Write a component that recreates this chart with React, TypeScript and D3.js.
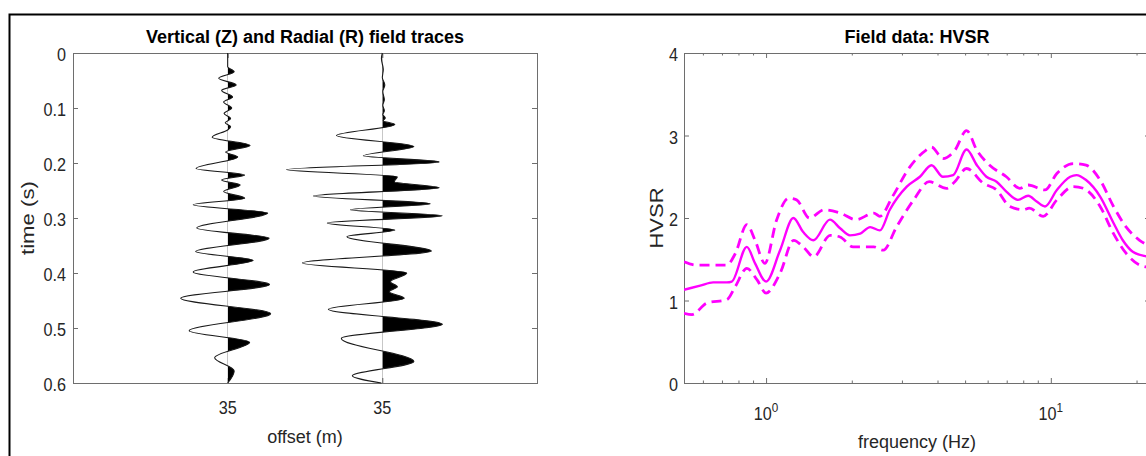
import React from "react";
import * as d3 from "d3";

// ---- Left panel: wiggle traces (time in s, amplitude in offset units) ----
const traceOffsets = [1, 2];
const offsetTickLabels = ["35", "35"];
const timeTicks = [0, 0.1, 0.2, 0.3, 0.4, 0.5, 0.6];

const zTime = [0, 0.025, 0.034, 0.046, 0.058, 0.068, 0.08, 0.089, 0.1, 0.11, 0.119, 0.127, 0.134, 0.14, 0.153, 0.168, 0.18, 0.189, 0.21, 0.222, 0.231, 0.24, 0.252, 0.264, 0.276, 0.291, 0.318, 0.337, 0.361, 0.377, 0.398, 0.421, 0.446, 0.474, 0.505, 0.526, 0.554, 0.578, 0.6];
const zAmp = [0, 0, 0.042, -0.058, 0.055, -0.039, 0.032, -0.026, 0.026, -0.023, 0.019, -0.016, 0.019, 0, -0.1, 0.145, -0.013, 0.065, -0.204, 0.11, -0.039, 0.081, -0.026, 0.11, -0.223, 0.259, -0.2, 0.268, -0.207, 0.165, -0.223, 0.271, -0.304, 0.278, -0.249, 0.142, -0.084, 0.042, 0];

const rTime = [0, 0.01, 0.03, 0.045, 0.058, 0.07, 0.085, 0.095, 0.105, 0.112, 0.118, 0.123, 0.13, 0.15, 0.17, 0.187, 0.198, 0.212, 0.225, 0.234, 0.245, 0.26, 0.274, 0.285, 0.296, 0.309, 0.322, 0.334, 0.36, 0.382, 0.4, 0.416, 0.425, 0.434, 0.446, 0.466, 0.493, 0.519, 0.561, 0.587, 0.6];
const rAmp = [0, -0.006, 0.006, 0, 0.016, 0.003, 0.013, 0.003, 0.013, 0.003, 0.019, 0.006, 0.081, -0.297, 0.204, -0.123, 0.368, -0.621, 0.097, 0.078, 0.368, -0.446, 0.31, -0.207, 0.388, -0.356, 0.081, -0.229, 0.317, -0.517, 0.158, 0.052, 0.097, 0.045, 0.142, -0.349, 0.388, -0.265, 0.204, -0.194, -0.006];

// ---- Right panel: HVSR curve with +/- one standard deviation ----
const hvsrTicks = [0, 1, 2, 3, 4];

const meanFreq = [0.515, 0.587, 0.652, 0.728, 0.758, 0.856, 0.915, 1.0, 1.12, 1.247, 1.35, 1.466, 1.676, 1.82, 1.97, 2.14, 2.32, 2.51, 2.72, 3.12, 3.47, 3.81, 4.18, 4.54, 5.06, 5.5, 5.94, 6.45, 6.98, 7.67, 8.33, 8.92, 9.54, 10.5, 11.7, 12.3, 13.3, 14.9, 16.6, 17.9, 19.4, 21.3, 22.3];
const meanHvsr = [1.13, 1.18, 1.22, 1.22, 1.23, 1.65, 1.45, 1.23, 1.61, 2.0, 1.83, 1.73, 1.98, 1.875, 1.79, 1.81, 1.89, 1.85, 2.1, 2.38, 2.5, 2.64, 2.5, 2.52, 2.83, 2.64, 2.5, 2.44, 2.32, 2.22, 2.27, 2.2, 2.14, 2.34, 2.5, 2.52, 2.46, 2.26, 1.94, 1.73, 1.59, 1.54, 1.53];

const upperFreq = [0.515, 0.57, 0.728, 0.78, 0.856, 0.915, 0.99, 1.09, 1.2, 1.28, 1.42, 1.6, 1.82, 2.07, 2.39, 2.51, 2.78, 3.2, 3.64, 3.81, 4.18, 4.6, 5.06, 5.5, 6.1, 6.98, 7.78, 8.33, 9.54, 10.5, 12.0, 13.3, 14.9, 16.6, 18.4, 20.5, 22.3];
const upperHvsr = [1.47, 1.43, 1.43, 1.57, 1.92, 1.73, 1.45, 1.98, 2.24, 2.22, 2.0, 2.1, 2.06, 1.98, 2.06, 2.02, 2.26, 2.62, 2.82, 2.86, 2.72, 2.82, 3.06, 2.82, 2.64, 2.5, 2.36, 2.4, 2.34, 2.54, 2.66, 2.64, 2.46, 2.14, 1.89, 1.73, 1.66];

const lowerFreq = [0.515, 0.55, 0.62, 0.728, 0.78, 0.856, 0.93, 1.0, 1.12, 1.25, 1.35, 1.47, 1.68, 1.82, 2.02, 2.39, 2.58, 2.87, 3.3, 3.74, 4.3, 4.6, 5.06, 5.8, 6.45, 7.18, 8.0, 8.4, 9.4, 10.5, 12.0, 13.0, 14.9, 16.6, 18.4, 20.5, 22.3];
const lowerHvsr = [0.845, 0.83, 0.97, 1.01, 1.17, 1.39, 1.25, 1.09, 1.33, 1.73, 1.65, 1.53, 1.79, 1.77, 1.65, 1.65, 1.61, 1.89, 2.22, 2.44, 2.36, 2.44, 2.6, 2.42, 2.34, 2.14, 2.1, 2.12, 2.02, 2.22, 2.38, 2.36, 2.14, 1.81, 1.57, 1.43, 1.4];

const FONT = "'Liberation Sans', Arial, Helvetica, sans-serif";
const AXIS = "#6e6e6e";
const TEXT = "#262626";
const MAGENTA = "#ff00ff";
const TICK_FONT = 18;
const TICK_SQUEEZE = 0.9;

const traces = [
  { t: zTime, a: zAmp },
  { t: rTime, a: rAmp },
];

// Tick label with slightly condensed glyphs.
function TickText(props: { x: number; y: number; anchor: string; children: React.ReactNode }) {
  return (
    <text
      transform={`translate(${props.x},${props.y}) scale(${TICK_SQUEEZE},1)`}
      textAnchor={props.anchor}
      fontSize={TICK_FONT}
      fill={TEXT}
    >
      {props.children}
    </text>
  );
}

export default function App() {
  const W = 1146;
  const H = 456;
  const left = { x0: 73, x1: 537, y0: 53, y1: 383 };
  const right = { x0: 684, x1: 1150, y0: 53, y1: 383 };
  const tick = 5;

  const xOff = d3.scaleLinear().domain([0, 3]).range([left.x0, left.x1]);
  const yTime = d3.scaleLinear().domain([0, 0.6]).range([left.y0, left.y1]);
  const xFreq = d3.scaleLog().domain([0.515, 22.3]).range([right.x0, right.x1]);
  const yHvsr = d3.scaleLinear().domain([0, 4]).range([right.y1, right.y0]);

  const freqTicks = xFreq.ticks();
  const isDecade = (f: number) => Math.abs(Math.log10(f) - Math.round(Math.log10(f))) < 1e-9;

  const hvLine = (fs: number[], vs: number[]) =>
    d3
      .line<number>()
      .x((i) => xFreq(fs[i]))
      .y((i) => yHvsr(vs[i]))
      .curve(d3.curveMonotoneX)(d3.range(fs.length)) || "";

  return (
    <svg
      width={W}
      height={H}
      style={{ position: "absolute", left: 0, top: 0, background: "#fff" }}
      fontFamily={FONT}
    >
      <defs>
        {traceOffsets.map((o, k) => (
          <clipPath id={`pos-${k}`} key={k}>
            <rect x={xOff(o)} y={left.y0} width={200} height={left.y1 - left.y0} />
          </clipPath>
        ))}
        <clipPath id="hvsr-clip">
          <rect x={right.x0} y={right.y0} width={right.x1 - right.x0} height={right.y1 - right.y0} />
        </clipPath>
      </defs>
      <rect x={0} y={0} width={W} height={H} fill="#fff" />

      {/* outer frame */}
      <rect x={9.5} y={14.5} width={1300} height={600} fill="none" stroke="#000" strokeWidth={2} />

      {/* ---------- left panel ---------- */}
      <rect
        x={left.x0 + 0.5}
        y={left.y0 + 0.5}
        width={left.x1 - left.x0}
        height={left.y1 - left.y0}
        fill="none"
        stroke={AXIS}
        strokeWidth={1}
      />
      {timeTicks.map((t) => (
        <g key={`tt${t}`}>
          <line x1={left.x0} x2={left.x0 + tick} y1={yTime(t) + 0.5} y2={yTime(t) + 0.5} stroke={AXIS} />
          <line x1={left.x1} x2={left.x1 - tick} y1={yTime(t) + 0.5} y2={yTime(t) + 0.5} stroke={AXIS} />
          <TickText x={left.x0 - 7} y={yTime(t) + 8} anchor="end">
            {t === 0 ? "0" : d3.format(".1f")(t)}
          </TickText>
        </g>
      ))}
      {traceOffsets.map((o, k) => (
        <g key={`ot${k}`}>
          <line x1={xOff(o) + 0.5} x2={xOff(o) + 0.5} y1={left.y1} y2={left.y1 - tick} stroke={AXIS} />
          <line x1={xOff(o) + 0.5} x2={xOff(o) + 0.5} y1={left.y0} y2={left.y0 + tick} stroke={AXIS} />
          <TickText x={xOff(o)} y={414} anchor="middle">
            {offsetTickLabels[k]}
          </TickText>
        </g>
      ))}

      {traces.map((tr, k) => {
        const o = traceOffsets[k];
        const idx = d3.range(tr.t.length);
        const area = d3
          .area<number>()
          .y((i) => yTime(tr.t[i]))
          .x0(xOff(o))
          .x1((i) => xOff(o + tr.a[i]))
          .curve(d3.curveMonotoneY)(idx) || "";
        const line = d3
          .line<number>()
          .x((i) => xOff(o + tr.a[i]))
          .y((i) => yTime(tr.t[i]))
          .curve(d3.curveMonotoneY)(idx) || "";
        return (
          <g key={`tr${k}`}>
            <path d={area} fill="#000" clipPath={`url(#pos-${k})`} />
            <path d={line} fill="none" stroke="#1a1a1a" strokeWidth={1.1} />
          </g>
        );
      })}

      <text x={(left.x0 + left.x1) / 2} y={43} textAnchor="middle" fontSize={18} fontWeight="bold" fill="#000">
        Vertical (Z) and Radial (R) field traces
      </text>
      <text x={(left.x0 + left.x1) / 2} y={443} textAnchor="middle" fontSize={18} fill={TEXT}>
        offset (m)
      </text>
      <text
        transform={`translate(34,${(left.y0 + left.y1) / 2}) rotate(-90)`}
        textAnchor="middle"
        fontSize={18}
        fill={TEXT}
        textLength={74}
        lengthAdjust="spacingAndGlyphs"
      >
        time (s)
      </text>

      {/* ---------- right panel ---------- */}
      <rect
        x={right.x0 + 0.5}
        y={right.y0 + 0.5}
        width={right.x1 - right.x0}
        height={right.y1 - right.y0}
        fill="none"
        stroke={AXIS}
        strokeWidth={1}
      />
      {hvsrTicks.map((v) => (
        <g key={`hv${v}`}>
          <line x1={right.x0} x2={right.x0 + tick} y1={yHvsr(v) + 0.5} y2={yHvsr(v) + 0.5} stroke={AXIS} />
          <line x1={right.x1} x2={right.x1 - tick} y1={yHvsr(v) + 0.5} y2={yHvsr(v) + 0.5} stroke={AXIS} />
          <TickText x={right.x0 - 6} y={yHvsr(v) + 8} anchor="end">
            {v}
          </TickText>
        </g>
      ))}
      {freqTicks.map((f) => {
        const major = isDecade(f);
        const len = major ? tick : 2.5;
        const x = xFreq(f) + 0.5;
        return (
          <g key={`ft${f}`}>
            <line x1={x} x2={x} y1={right.y1} y2={right.y1 - len} stroke={AXIS} />
            <line x1={x} x2={x} y1={right.y0} y2={right.y0 + len} stroke={AXIS} />
            {major && (
              <TickText x={xFreq(f)} y={419.5} anchor="middle">
                10
                <tspan dy={-8} fontSize={13}>
                  {Math.round(Math.log10(f))}
                </tspan>
              </TickText>
            )}
          </g>
        );
      })}

      <g clipPath="url(#hvsr-clip)">
        <path d={hvLine(upperFreq, upperHvsr)} fill="none" stroke={MAGENTA} strokeWidth={2.8} strokeDasharray="10 6" />
        <path d={hvLine(lowerFreq, lowerHvsr)} fill="none" stroke={MAGENTA} strokeWidth={2.8} strokeDasharray="10 6" />
        <path d={hvLine(meanFreq, meanHvsr)} fill="none" stroke={MAGENTA} strokeWidth={2.4} />
      </g>

      <text x={(right.x0 + right.x1) / 2} y={43} textAnchor="middle" fontSize={18} fontWeight="bold" fill="#000">
        Field data: HVSR
      </text>
      <text x={(right.x0 + right.x1) / 2} y={448} textAnchor="middle" fontSize={18} fill={TEXT}>
        frequency (Hz)
      </text>
      <text
        transform={`translate(663,${(right.y0 + right.y1) / 2}) rotate(-90)`}
        textAnchor="middle"
        fontSize={18}
        fill={TEXT}
        textLength={61}
        lengthAdjust="spacingAndGlyphs"
      >
        HVSR
      </text>
    </svg>
  );
}
